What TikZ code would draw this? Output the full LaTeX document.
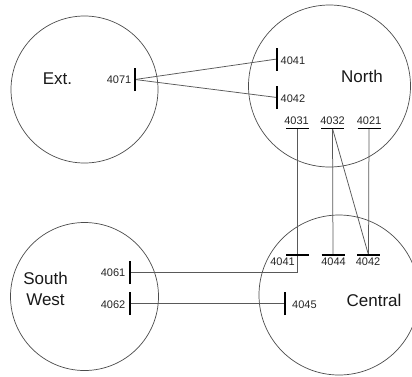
\documentclass[tikz,border=0pt]{standalone}
\usepackage{fontspec}
\setmainfont{Liberation Sans}
\begin{document}
\begin{tikzpicture}[x=1pt,y=-1pt,
  region/.style={circle,draw=black!70,line width=0.7pt,minimum size=#1,inner sep=0pt},
  vbar/.style={draw=black,line width=1.7pt},
  hbar/.style={draw=black,line width=1.7pt},
  link/.style={draw=black!65,line width=0.75pt},
  num/.style={inner sep=0pt,font=\fontsize{11}{13}\selectfont,text=black!85},
  big/.style={inner sep=0pt,font=\fontsize{17}{21}\selectfont,text=black!90,align=center}]
\useasboundingbox (0,0) rectangle (412,376);
\clip (0,0) rectangle (412,376);
\fill[white] (0,0) rectangle (412,376);
% regions
\node[region=147pt] (ext) at (84.5,89.5) {};
\node[region=162pt] (north) at (329.5,86) {};
\node[region=148pt] (sw) at (84.5,296.5) {};
\node[region=160pt] (central) at (339,295) {};
% region labels
\node[big] (lext) at (57.5,79) {Ext.};
\node[big] (lnorth) at (362,76) {North};
\node[big] (lsw) at (45.5,289) {South\\West};
\node[big] (lcentral) at (374,300) {Central};
% bar centres
\coordinate (b4071) at (135,79.5);
\coordinate (n4041) at (277,59);
\coordinate (n4042) at (277,97.5);
\coordinate (n4031) at (297.5,128.5);
\coordinate (n4032) at (332.5,128.5);
\coordinate (n4021) at (369,128.5);
\coordinate (c4041) at (297.5,255);
\coordinate (c4044) at (333,255);
\coordinate (c4042) at (368.5,255);
\coordinate (c4045) at (285,303.5);
\coordinate (s4061) at (130,272.5);
\coordinate (s4062) at (130,303.5);
% links
\draw[link] (b4071) -- (n4041);
\draw[link] (b4071) -- (n4042);
\draw[link] (n4031) -- (c4041);
\draw[link] (c4041) |- (s4061);
\draw[link] (n4032) -- (c4044);
\draw[link] (n4021) -- (c4042);
\draw[link] (n4032) -- (c4042);
\draw[link] (s4062) -- (c4045);
% vertical bars
\foreach \b in {b4071,n4041,n4042,c4045,s4061,s4062}
  \draw[vbar] ([yshift=-11.5pt]\b) -- ([yshift=11.5pt]\b);
% horizontal bars
\foreach \b in {n4031,n4032,n4021,c4041,c4044,c4042}
  \draw[hbar] ([xshift=-11.5pt]\b) -- ([xshift=11.5pt]\b);
% numbers
\node[num,anchor=east] (t4071) at (131.5,79.5) {4071};
\node[num,anchor=west] (tn4041) at (280.5,61) {4041};
\node[num,anchor=west] (tn4042) at (280.5,99) {4042};
\node[num] (tn4031) at (296.5,121) {4031};
\node[num] (tn4032) at (332.5,121) {4032};
\node[num] (tn4021) at (369,121) {4021};
\node[num] (tc4041) at (282.5,262) {4041};
\node[num] (tc4044) at (333.5,262) {4044};
\node[num] (tc4042) at (368,262) {4042};
\node[num,anchor=west] (tc4045) at (292,304.5) {4045};
\node[num,anchor=east] (ts4061) at (125.5,273) {4061};
\node[num,anchor=east] (ts4062) at (125.5,304.5) {4062};
\end{tikzpicture}
\end{document}
